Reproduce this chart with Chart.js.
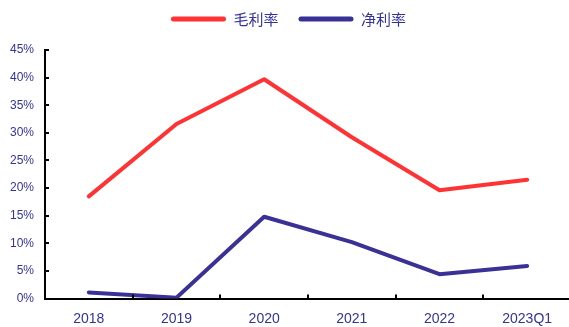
<!DOCTYPE html>
<html>
<head>
<meta charset="utf-8">
<script src="https://cdn.jsdelivr.net/npm/chart.js@4/dist/chart.umd.min.js"></script>
<style>
html,body{margin:0;padding:0;background:#fff;overflow:hidden;}
#wrap{position:relative;width:571px;height:327px;}
</style>
</head>
<body>
<div id="wrap"><canvas id="c" width="571" height="327"></canvas></div>
<script>
const categories = ['2018', '2019', '2020', '2021', '2022', '2023Q1'];
const grossMargin = [18.5, 31.6, 39.7, 29.2, 19.6, 21.5];
const netMargin = [1.1, 0.15, 14.8, 10.2, 4.4, 5.9];
const seriesNames = ['毛利率', '净利率'];
const yTicks = [0, 5, 10, 15, 20, 25, 30, 35, 40, 45];

const RED = '#FF3333';
const BLUE = '#3A3196';
const TXT = '#333399';

const innerTicks = {
  id: 'innerTicks',
  afterLayout(chart) {
    // lift the legend row closer to the top edge
    const lg = chart.legend;
    if (lg) {
      const target = 19, cur = lg.top + 20 + 7.5;
      const d = cur - target;
      lg.top -= d; lg.bottom -= d;
      lg.left += 3; lg.right += 3;
    }
  },
  afterDraw(chart) {
    const ctx = chart.ctx;
    const xs = chart.scales.x, ys = chart.scales.y;
    const a = chart.chartArea;
    ctx.save();
    ctx.strokeStyle = '#000';
    ctx.lineWidth = 2;
    ctx.beginPath();
    ys.ticks.forEach(t => {
      const y = Math.round(ys.getPixelForValue(t.value));
      ctx.moveTo(a.left, y);
      ctx.lineTo(a.left + 4, y);
    });
    for (let i = 1; i < categories.length; i++) {
      const x = Math.round((xs.getPixelForValue(i - 1) + xs.getPixelForValue(i)) / 2);
      ctx.moveTo(x, a.bottom);
      ctx.lineTo(x, a.bottom - 4);
    }
    ctx.stroke();
    ctx.restore();
  }
};

new Chart(document.getElementById('c'), {
  type: 'line',
  data: {
    labels: categories,
    datasets: [
      { label: seriesNames[0], data: grossMargin, borderColor: RED, backgroundColor: RED,
        borderWidth: 4, pointRadius: 0, tension: 0, borderCapStyle: 'round', borderJoinStyle: 'round' },
      { label: seriesNames[1], data: netMargin, borderColor: BLUE, backgroundColor: BLUE,
        borderWidth: 4, pointRadius: 0, tension: 0, borderCapStyle: 'round', borderJoinStyle: 'round' }
    ]
  },
  options: {
    responsive: false,
    animation: false,
    layout: { padding: { top: 5, left: 0, right: 0, bottom: 0 } },
    plugins: {
      tooltip: { enabled: false },
      legend: {
        position: 'top',
        labels: {
          boxWidth: 55, boxHeight: 5, padding: 20,
          color: TXT,
          font: { family: '"Noto Sans CJK SC", sans-serif', size: 15 },
          useBorderRadius: true, borderRadius: 2.5,
          generateLabels(chart) {
            return Chart.defaults.plugins.legend.labels.generateLabels(chart)
              .map(l => Object.assign(l, { lineWidth: 0, strokeStyle: 'rgba(0,0,0,0)' }));
          }
        }
      }
    },
    scales: {
      x: {
        offset: true,
        afterFit(scale) { scale.height = 28.5; },
        grid: { display: false, drawTicks: false },
        border: { display: true, color: '#000', width: 2 },
        ticks: { color: TXT, padding: 12, maxRotation: 0, autoSkip: false,
          font: { family: '"Liberation Sans", Arial, sans-serif', size: 14 } }
      },
      y: {
        min: 0, max: 45,
        afterBuildTicks(scale) { scale.ticks = yTicks.map(v => ({ value: v })); },
        afterFit(scale) { scale.width = 45; },
        grid: { display: false, drawTicks: false },
        border: { display: true, color: '#000', width: 2 },
        ticks: { color: TXT, padding: 11,
          font: { family: '"Liberation Sans", Arial, sans-serif', size: 12 },
          callback: v => v + '%' }
      }
    }
  },
  plugins: [innerTicks]
});
</script>
</body>
</html>
